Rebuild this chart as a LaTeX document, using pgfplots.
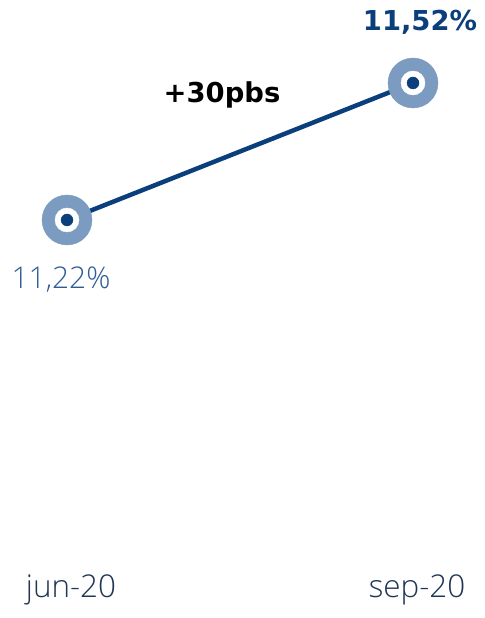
\documentclass[border=0pt]{standalone}
\usepackage{pgfplots}
\pgfplotsset{compat=1.18}
\usepackage{fontspec}
\setmainfont{Open Sans}
\newfontfamily\lightfont{Open Sans Light}
\newfontfamily\boldfont{DejaVu Sans}
\definecolor{dblue}{HTML}{0A3F7C}
\definecolor{ring}{HTML}{7B9CC0}
\definecolor{midblue}{HTML}{2D5C97}
\definecolor{navy}{HTML}{1F3555}
\begin{document}
\begin{tikzpicture}[x=1bp,y=1bp]
\begin{axis}[
  scale only axis,
  width=485bp, height=618bp,
  xmin=-0.19364, xmax=1.20809,
  ymin=10.34847, ymax=11.70175,
  axis lines=none,
  ticks=none,
  clip=false,
]
\path (rel axis cs:0,0) rectangle (rel axis cs:1,1);
\addplot[ring, only marks, mark=*, mark size=25bp, mark options={fill=ring, draw=none}] coordinates {(0,11.22) (1,11.52)};
\addplot[white, only marks, mark=*, mark size=12bp, mark options={fill=white, draw=none}] coordinates {(0,11.22) (1,11.52)};
\addplot[dblue, line width=4.5bp, no marks] coordinates {(0,11.22) (1,11.52)};
\addplot[dblue, only marks, mark=*, mark size=6bp, mark options={fill=dblue, draw=none}] coordinates {(0,11.22) (1,11.52)};
\node[font=\lightfont\fontsize{30}{30}\selectfont, text=midblue, anchor=base] at (axis cs:-0.0173,11.07) {11,22\%};
\node[font=\boldfont\bfseries\fontsize{27.5}{28}\selectfont, text=dblue, anchor=base] at (axis cs:1.0202,11.6355) {11,52\%};
\node[font=\boldfont\bfseries\fontsize{27.5}{28}\selectfont, text=black, anchor=base] at (axis cs:0.4480,11.4767) {+30pbs};
\node[font=\lightfont\fontsize{31.5}{32}\selectfont, text=navy, anchor=base] at (axis cs:0.0116,10.3923) {jun-20};
\node[font=\lightfont\fontsize{31.5}{32}\selectfont, text=navy, anchor=base] at (axis cs:1.0116,10.3923) {sep-20};
\end{axis}
\end{tikzpicture}
\end{document}
